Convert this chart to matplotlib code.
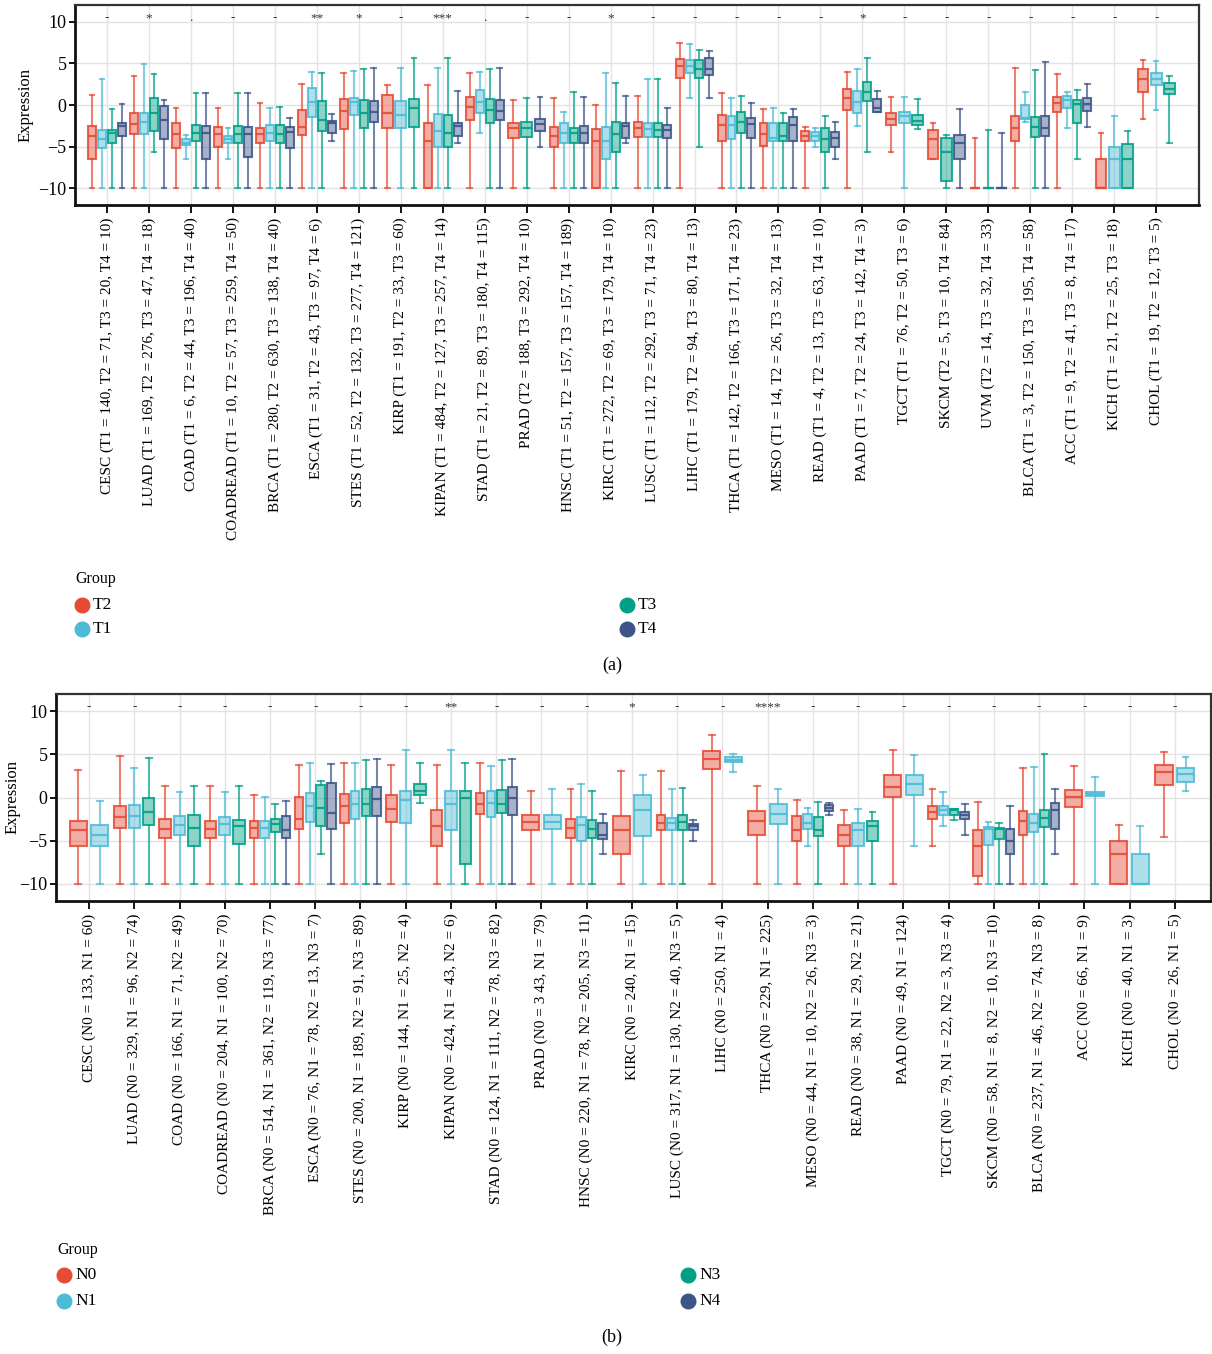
import matplotlib
matplotlib.use("Agg")
import matplotlib.pyplot as plt
from matplotlib.lines import Line2D
from matplotlib.colors import to_rgba

plt.rcParams['font.family'] = ['Liberation Serif', 'DejaVu Serif']

# ---------------- Panel (a) data ----------------
a_categories = ["CESC (T1 = 140, T2 = 71, T3 = 20, T4 = 10)",
                "LUAD (T1 = 169, T2 = 276, T3 = 47, T4 = 18)",
                "COAD (T1 = 6, T2 = 44, T3 = 196, T4 = 40)",
                "COADREAD (T1 = 10, T2 = 57, T3 = 259, T4 = 50)",
                "BRCA (T1 = 280, T2 = 630, T3 = 138, T4 = 40)",
                "ESCA (T1 = 31, T2 = 43, T3 = 97, T4 = 6)",
                "STES (T1 = 52, T2 = 132, T3 = 277, T4 = 121)",
                "KIRP (T1 = 191, T2 = 33, T3 = 60)",
                "KIPAN (T1 = 484, T2 = 127, T3 = 257, T4 = 14)",
                "STAD (T1 = 21, T2 = 89, T3 = 180, T4 = 115)",
                "PRAD (T2 = 188, T3 = 292, T4 = 10)",
                "HNSC (T1 = 51, T2 = 157, T3 = 157, T4 = 189)",
                "KIRC (T1 = 272, T2 = 69, T3 = 179, T4 = 10)",
                "LUSC (T1 = 112, T2 = 292, T3 = 71, T4 = 23)",
                "LIHC (T1 = 179, T2 = 94, T3 = 80, T4 = 13)",
                "THCA (T1 = 142, T2 = 166, T3 = 171, T4 = 23)",
                "MESO (T1 = 14, T2 = 26, T3 = 32, T4 = 13)",
                "READ (T1 = 4, T2 = 13, T3 = 63, T4 = 10)",
                "PAAD (T1 = 7, T2 = 24, T3 = 142, T4 = 3)",
                "TGCT (T1 = 76, T2 = 50, T3 = 6)",
                "SKCM (T2 = 5, T3 = 10, T4 = 84)",
                "UVM (T2 = 14, T3 = 32, T4 = 33)",
                "BLCA (T1 = 3, T2 = 150, T3 = 195, T4 = 58)",
                "ACC (T1 = 9, T2 = 41, T3 = 8, T4 = 17)",
                "KICH (T1 = 21, T2 = 25, T3 = 18)",
                "CHOL (T1 = 19, T2 = 12, T3 = 5)"]
a_groups = ["T2", "T1", "T3", "T4"]
a_present = [[0,1,2,3],[0,1,2,3],[0,1,2,3],[0,1,2,3],[0,1,2,3],[0,1,2,3],[0,1,2,3],
             [0,1,2],[0,1,2,3],[0,1,2,3],[0,2,3],[0,1,2,3],[0,1,2,3],[0,1,2,3],
             [0,1,2,3],[0,1,2,3],[0,1,2,3],[0,1,2,3],[0,1,2,3],[0,1,2],[0,2,3],
             [0,2,3],[0,1,2,3],[0,1,2,3],[0,1,2],[0,1,2]]
a_whishi = [[1.2,3.1,-0.5,0.1],[3.5,4.9,3.7,0.6],[-0.3,-3.6,1.5,1.4],[-0.3,-2.8,1.5,1.4],
            [0.3,-0.3,-0.2,-1.5],[2.5,4.0,3.8,-1.1],[3.9,4.1,4.3,4.5],[2.4,4.5,5.6],
            [2.4,4.5,5.6,1.7],[3.9,4.0,4.3,4.5],[0.6,0.9,1.0],[0.8,-0.8,1.6,1.0],
            [0.0,3.8,2.7,1.1],[1.1,3.1,3.1,-0.4],[7.5,7.3,6.6,6.5],[1.5,0.8,1.1,0.2],
            [-0.5,-0.3,-1.0,-0.5],[-2.6,-2.8,-1.3,-2.0],[4.0,4.3,5.6,1.7],[1.0,1.0,0.7],
            [-2.2,-3.6,-0.5],[-4.0,-3.0,-3.3],[4.5,1.6,4.2,5.2],[3.7,1.6,1.8,2.5],
            [-3.3,-1.3,-3.1],[5.4,5.3,3.5]]
a_q3 = [[-2.5,-3.0,-3.0,-2.2],[-1.0,-1.0,0.8,-0.1],[-2.2,-4.1,-2.4,-2.5],[-2.6,-3.7,-2.5,-2.6],
        [-2.7,-2.4,-2.4,-2.6],[-0.6,2.1,0.5,-1.9],[0.7,0.8,0.6,0.5],[1.2,0.5,0.7],
        [-2.1,-1.1,-1.2,-2.2],[1.0,1.8,0.7,0.6],[-2.2,-2.0,-1.7],[-2.6,-2.2,-2.7,-2.5],
        [-2.9,-2.6,-2.0,-2.2],[-2.0,-2.2,-2.2,-2.4],[5.5,5.4,5.4,5.6],[-1.2,-1.3,-0.8,-1.5],
        [-2.2,-2.1,-2.2,-1.4],[-3.1,-3.2,-2.8,-3.2],[1.9,1.7,2.8,0.7],[-0.9,-0.8,-1.2],
        [-3.0,-3.9,-3.6],[-10,-10,-10],[-1.3,0.0,-1.4,-1.3],[1.0,1.1,0.6,0.8],
        [-6.5,-5.0,-4.7],[4.3,3.8,2.7]]
a_med = [[-3.7,-4.1,-3.3,-2.5],[-2.3,-2.0,-1.0,-1.8],[-3.5,-4.5,-3.3,-3.4],[-3.5,-4.1,-3.5,-3.5],
         [-3.5,-3.3,-3.5,-3.2],[-2.6,0.4,-1.8,-2.1],[-0.7,0.4,-1.0,-0.8],[-1.0,-1.2,-0.3],
         [-4.3,-3.1,-3.4,-2.5],[-0.2,0.4,-0.6,-0.7],[-2.8,-2.7,-2.3],[-3.7,-3.4,-3.4,-3.3],
         [-4.3,-4.3,-3.5,-2.5],[-2.7,-2.9,-3.0,-3.0],[4.7,4.7,4.3,4.3],[-2.4,-2.4,-2.0,-2.3],
         [-3.5,-3.9,-3.7,-2.4],[-3.7,-3.7,-4.1,-3.9],[0.8,0.4,1.6,-0.3],[-1.7,-1.3,-1.9],
         [-4.1,-5.6,-4.5],[-10,-10,-10],[-2.8,-1.5,-2.6,-2.7],[0.3,0.6,0.1,0.1],
         [-10,-6.5,-6.5],[3.1,3.1,1.9]]
a_q1 = [[-6.5,-5.1,-4.5,-3.7],[-3.5,-3.5,-3.1,-4.1],[-5.2,-4.8,-4.3,-6.5],[-5.0,-4.5,-4.6,-6.2],
        [-4.6,-4.3,-4.6,-5.2],[-3.6,-1.4,-3.1,-3.3],[-2.9,-1.2,-2.7,-2.0],[-2.7,-2.7,-2.6],
        [-10,-5.0,-5.0,-3.7],[-1.8,-1.0,-2.1,-1.8],[-4.0,-3.8,-3.1],[-5.0,-4.6,-4.6,-4.6],
        [-10,-6.5,-5.6,-3.9],[-3.8,-3.8,-3.8,-3.9],[3.3,3.9,3.3,3.6],[-4.3,-4.1,-3.3,-3.9],
        [-4.9,-4.3,-4.3,-4.3],[-4.3,-4.3,-5.6,-5.0],[-0.6,-1.0,0.5,-0.8],[-2.4,-2.1,-2.4],
        [-6.5,-9.1,-6.5],[-10,-10,-10],[-4.3,-1.7,-3.8,-3.7],[-0.8,-0.4,-2.2,-0.7],
        [-10,-10,-10],[1.6,2.4,1.3]]
a_whislo = [[-10,-10,-10,-10],[-10,-10,-5.6,-10],[-10,-6.5,-10,-10],[-10,-6.5,-10,-10],
            [-10,-10,-10,-10],[-10,-10,-10,-4.3],[-10,-10,-10,-10],[-10,-10,-10],
            [-10,-10,-10,-4.6],[-10,-3.3,-10,-10],[-10,-10,-5.0],[-10,-10,-10,-10],
            [-10,-10,-10,-4.6],[-10,-10,-10,-10],[-10,0.8,-5.0,0.8],[-10,-10,-10,-10],
            [-10,-10,-10,-10],[-10,-5.0,-10,-6.5],[-10,-2.5,-5.6,-0.8],[-5.6,-10,-2.9],
            [-6.5,-10,-10],[-10,-10,-10],[-10,-2.0,-10,-10],[-10,-2.7,-6.5,-2.6],
            [-10,-10,-10],[-1.7,-0.6,-4.6]]
a_signif = ["-", "*", ".", "-", "-", "**", "*", "-", "***", ".", "-", "-", "*", "-",
            "-", "-", "-", "-", "*", "-", "-", "-", "-", "-", "-", "-"]

# ---------------- Panel (b) data ----------------
b_categories = ["CESC (N0 = 133, N1 = 60)",
                "LUAD (N0 = 329, N1 = 96, N2 = 74)",
                "COAD (N0 = 166, N1 = 71, N2 = 49)",
                "COADREAD (N0 = 204, N1 = 100, N2 = 70)",
                "BRCA (N0 = 514, N1 = 361, N2 = 119, N3 = 77)",
                "ESCA (N0 = 76, N1 = 78, N2 = 13, N3 = 7)",
                "STES (N0 = 200, N1 = 189, N2 = 91, N3 = 89)",
                "KIRP (N0 = 144, N1 = 25, N2 = 4)",
                "KIPAN (N0 = 424, N1 = 43, N2 = 6)",
                "STAD (N0 = 124, N1 = 111, N2 = 78, N3 = 82)",
                "PRAD (N0 = 3 43, N1 = 79)",
                "HNSC (N0 = 220, N1 = 78, N2 = 205, N3 = 11)",
                "KIRC (N0 = 240, N1 = 15)",
                "LUSC (N0 = 317, N1 = 130, N2 = 40, N3 = 5)",
                "LIHC (N0 = 250, N1 = 4)",
                "THCA (N0 = 229, N1 = 225)",
                "MESO (N0 = 44, N1 = 10, N2 = 26, N3 = 3)",
                "READ (N0 = 38, N1 = 29, N2 = 21)",
                "PAAD (N0 = 49, N1 = 124)",
                "TGCT (N0 = 79, N1 = 22, N2 = 3, N3 = 4)",
                "SKCM (N0 = 58, N1 = 8, N2 = 10, N3 = 10)",
                "BLCA (N0 = 237, N1 = 46, N2 = 74, N3 = 8)",
                "ACC (N0 = 66, N1 = 9)",
                "KICH (N0 = 40, N1 = 3)",
                "CHOL (N0 = 26, N1 = 5)"]
b_groups = ["N0", "N1", "N3", "N4"]
b_whishi = [[3.2,-0.4],[4.8,3.4,4.6],[1.3,0.6,1.3],[1.3,0.6,1.3],[0.3,0.1,-0.8,-0.4],
            [3.8,4.0,1.9,3.85],[4.0,4.0,4.3,4.5],[3.8,5.5,4.0],[3.8,5.5,4.0],[4.0,3.7,4.3,4.5],
            [0.8,1.0],[1.0,1.6,0.8,-1.9],[3.1,2.6],[3.1,1.0,1.1,-2.6],[7.3,5.0],[1.3,1.0],
            [-0.3,-1.2,-0.5,-0.6],[-1.5,-1.3,-1.7],[5.5,4.9],[1.0,0.6,-1.3,-0.8],
            [-0.5,-2.8,-3.0,-1.0],[3.4,3.5,5.1,1.0],[3.7,2.4],[-3.2,-3.3],[5.3,4.7]]
b_q3 = [[-2.7,-3.2],[-1.0,-0.9,-0.1],[-2.5,-2.1,-2.0],[-2.7,-2.3,-2.6],[-2.7,-2.7,-2.5,-2.2],
        [0.1,0.5,1.4,1.7],[0.4,0.7,1.0,1.2],[0.3,0.8,1.6],[-1.4,0.7,0.8],[0.5,0.8,0.9,1.2],
        [-2.0,-2.0],[-2.5,-2.3,-2.6,-3.0],[-2.2,0.3],[-2.0,-2.4,-2.0,-3.1],[5.4,4.7],[-1.6,-0.7],
        [-2.2,-1.9,-2.3,-0.9],[-3.2,-3.0,-2.7],[2.6,2.6],[-1.0,-1.0,-1.3,-1.7],
        [-3.8,-3.4,-3.5,-3.7],[-1.6,-1.9,-1.4,-0.6],[0.9,0.6],[-5.0,-6.6],[3.8,3.4]]
b_med = [[-3.8,-4.3],[-2.3,-2.1,-1.7],[-3.6,-3.2,-3.5],[-3.6,-3.1,-3.3],[-3.5,-3.5,-3.1,-3.8],
         [-2.5,-1.0,-1.2,-1.8],[-1.0,-0.8,-0.8,-0.2],[-1.3,-0.3,0.7],[-3.3,-0.8,0.0],
         [-0.7,-0.6,-0.8,-0.1],[-2.8,-2.8],[-3.5,-3.2,-3.6,-4.3],[-3.8,-1.5],
         [-3.0,-3.0,-2.8,-3.3],[4.5,4.4],[-2.7,-1.9],[-3.8,-3.0,-3.8,-1.2],[-4.3,-3.8,-3.3],
         [1.2,1.6],[-1.7,-1.5,-1.5,-2.0],[-5.6,-3.6,-3.7,-5.0],[-2.7,-3.0,-2.4,-1.4],
         [0.1,0.4],[-6.5,-10],[3.0,2.7]]
b_q1 = [[-5.6,-5.6],[-3.5,-3.5,-3.2],[-4.7,-4.3,-5.6],[-4.7,-4.3,-5.4],[-4.7,-4.7,-4.0,-4.7],
        [-3.6,-2.8,-3.3,-3.7],[-3.0,-2.5,-2.2,-2.2],[-2.8,-3.0,0.3],[-5.6,-3.8,-7.7],
        [-1.9,-2.3,-1.8,-2.0],[-3.8,-3.6],[-4.7,-5.0,-4.7,-4.8],[-6.5,-4.5],
        [-3.8,-3.8,-3.8,-3.8],[3.3,4.1],[-4.3,-3.1],[-5.1,-3.7,-4.5,-1.6],[-5.6,-5.6,-5.1],
        [0.1,0.3],[-2.5,-2.0,-2.0,-2.5],[-9.1,-5.5,-4.8,-6.5],[-4.3,-4.0,-3.4,-3.7],
        [-1.1,0.2],[-10,-10],[1.5,1.8]]
b_whislo = [[-10,-10],[-10,-10,-10],[-10,-10,-10],[-10,-10,-10],[-10,-10,-10,-10],
            [-10,-10,-6.5,-10],[-10,-10,-10,-10],[-10,-10,-0.6],[-10,-10,-10],[-10,-10,-10,-10],
            [-10,-10],[-10,-10,-10,-6.5],[-10,-10],[-10,-10,-10,-5.0],[-10,2.9],[-10,-10],
            [-10,-5.6,-10,-2.0],[-10,-10,-10],[-10,-5.6],[-5.6,-3.3,-2.6,-4.3],
            [-10,-10,-10,-10],[-10,-10,-10,-6.5],[-10,-10],[-10,-10],[-4.6,0.7]]
b_signif = ["-", "-", "-", "-", "-", "-", "-", "-", "**", "-", "-", "-", "*", "-",
            "-", "****", "-", "-", "-", "-", "-", "-", "-", "-", "-"]

palette = ["#E64B35", "#4DBBD5", "#00A087", "#3C5488"]
yticks = [-10, -5, 0, 5, 10]

W, H = 1212, 1354
fig = plt.figure(figsize=(W / 100, H / 100), dpi=100)


def px_axes(l, t, r, b):
    return fig.add_axes([l / W, 1 - b / H, (r - l) / W, (b - t) / H])


def draw_panel(ax, cats, present, hi, q3, med, q1, lo, signif, xlim, capw):
    total = 0.95
    for i in range(len(cats)):
        idx = present[i]
        n = len(idx)
        slot = total / n
        for k, g in enumerate(idx):
            pos = i - total / 2 + slot * (k + 0.5)
            col = palette[g]
            st = dict(med=med[i][k], q1=q1[i][k], q3=q3[i][k],
                      whislo=lo[i][k], whishi=hi[i][k], fliers=[])
            ax.bxp([st], positions=[pos], widths=[slot * 0.8], patch_artist=True,
                   showfliers=False, capwidths=[capw],
                   boxprops=dict(facecolor=to_rgba(col, 0.45),
                                 edgecolor=to_rgba(col, 0.85), linewidth=1.5),
                   medianprops=dict(color=to_rgba(col, 0.9), linewidth=1.6),
                   whiskerprops=dict(color=to_rgba(col, 0.7), linewidth=1.5),
                   capprops=dict(color=to_rgba(col, 0.7), linewidth=1.5),
                   manage_ticks=False, zorder=3)
        ax.text(i, 10.45, signif[i], ha='center', va='center', fontsize=9.5,
                color='#333333', zorder=4)
    ax.set_xlim(*xlim)
    ax.set_ylim(-12, 12)
    ax.set_xticks(range(len(cats)))
    ax.set_xticklabels(cats, rotation=90, fontsize=11)
    ax.set_yticks(yticks)
    ax.set_yticklabels([str(v) if v >= 0 else "\u2212" + str(-v) for v in yticks], fontsize=13)
    ax.set_ylabel("Expression", fontsize=12)
    ax.grid(True, color='#E3E3E3', linewidth=1.0, zorder=0)
    ax.set_axisbelow(True)
    ax.tick_params(axis='x', length=6, width=1.3, direction='out', pad=3)
    ax.tick_params(axis='y', length=4, width=1.3, direction='out', pad=2)
    for s in ['left', 'bottom']:
        ax.spines[s].set_linewidth(2.0)
        ax.spines[s].set_color('#111111')
    for s in ['top', 'right']:
        ax.spines[s].set_linewidth(1.6)
        ax.spines[s].set_color('#333333')


ax_a = px_axes(75, 5, 1199, 205)
draw_panel(ax_a, a_categories, a_present, a_whishi, a_q3, a_med, a_q1, a_whislo,
           a_signif, (-0.76, 26.02), 0.11)
ax_a.yaxis.set_label_coords(-0.037, 0.5)

b_present = [list(range(len(v))) for v in b_med]
ax_b = px_axes(56, 694, 1211, 901)
draw_panel(ax_b, b_categories, b_present, b_whishi, b_q3, b_med, b_q1, b_whislo,
           b_signif, (-0.73, 24.8), 0.13)
ax_b.yaxis.set_label_coords(-0.031, 0.5)


def legend_block(title, title_xy, items):
    fig.text(title_xy[0] / W, 1 - title_xy[1] / H, title, fontsize=11.5,
             ha='left', va='center')
    for (x, y, lab, col) in items:
        fig.add_artist(Line2D([x / W], [1 - y / H], marker='o', markersize=10.5,
                              color=col, linestyle='none', transform=fig.transFigure))
        fig.text((x + 11) / W, 1 - y / H, lab, fontsize=12.5, ha='left', va='center')


legend_block("Group", (75, 579), [(82, 605, a_groups[0], palette[0]),
                                  (82, 629, a_groups[1], palette[1]),
                                  (627, 605, a_groups[2], palette[2]),
                                  (627, 629, a_groups[3], palette[3])])
fig.text(612 / W, 1 - 665 / H, "(a)", fontsize=13, ha='center', va='center')

legend_block("Group", (57, 1250), [(64, 1275, b_groups[0], palette[0]),
                                   (64, 1301, b_groups[1], palette[1]),
                                   (688, 1275, b_groups[2], palette[2]),
                                   (688, 1301, b_groups[3], palette[3])])
fig.text(612 / W, 1 - 1337 / H, "(b)", fontsize=13, ha='center', va='center')

fig.savefig("out.png", dpi=100)
